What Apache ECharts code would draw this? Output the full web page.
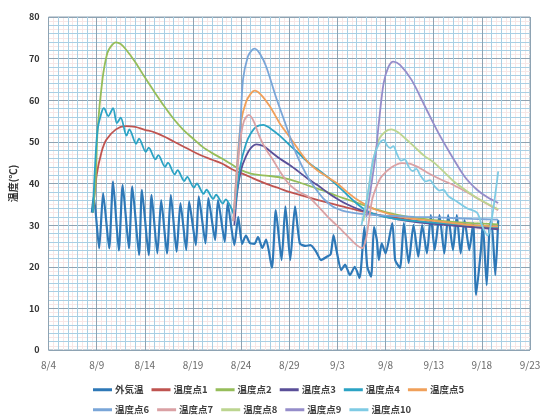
<!DOCTYPE html>
<html>
<head>
<meta charset="utf-8">
<script src="https://cdn.jsdelivr.net/npm/echarts@6/dist/echarts.min.js"></script>
<style>
html,body{margin:0;padding:0;background:#fff;}
#chart{width:552px;height:418px;}
</style>
</head>
<body>
<div id="chart"></div>
<script>
// Tick labels
const dateLabels = ['8/4','8/9','8/14','8/19','8/24','8/29','9/3','9/8','9/13','9/18','9/23'];
const seriesNames = ['外気温','温度点1','温度点2','温度点3','温度点4','温度点5','温度点6','温度点7','温度点8','温度点9','温度点10'];
// x = days since 8/4, y = temperature (°C)
const outdoor = [[4.5,33],[4.7,37],[5.26,24.4],[5.67,37.7],[6.3,24.4],[6.7,40.5],[7.3,23.9],[7.7,39.7],[8.35,24.4],[8.7,39.3],[9.4,22.8],[9.7,38.5],[10.4,22.8],[10.7,37.3],[11.3,23.2],[11.7,36],[12.3,23.2],[12.7,37.3],[13.3,23.6],[13.7,35.3],[14.3,24],[14.6,35.7],[15.3,25.2],[15.6,36.9],[16.3,25.6],[16.6,36.5],[17.3,26.4],[17.6,36],[18.3,26],[18.6,35.3],[19.3,25.2],[19.7,32],[20.1,25.5],[20.5,27.5],[20.9,25.7],[21.4,25.5],[21.75,27.2],[22.2,24.5],[22.6,26.5],[23.2,19.7],[23.6,33.6],[24.2,21.6],[24.6,34.5],[25.1,21.6],[25.6,34.5],[26.1,25.6],[26.7,25],[27.2,25.2],[27.8,23.6],[28.3,21.6],[28.9,22.4],[29.3,23],[29.6,27.6],[29.9,24],[30.4,19.2],[30.8,20.5],[31.3,18],[31.8,20],[32.3,17.3],[32.8,29.6],[33.1,20],[33.5,17.6],[33.8,29.6],[34.1,26.4],[34.3,21.6],[34.6,25.6],[35,23.2],[35.7,30.5],[36,21.6],[36.5,19.7],[36.9,30.5],[37.4,20.9],[37.9,30],[38.4,22.4],[38.8,30],[39.3,23.2],[39.7,32.4],[40.1,24],[40.6,32.4],[41.1,23.2],[41.5,32.4],[42,24],[42.4,32.4],[42.8,23.2],[43.2,31.2],[43.7,24],[44.1,30.5],[44.4,13.2],[44.9,24],[45.1,30.5],[45.5,15.6],[45.8,29.6],[46,31.2],[46.4,18],[46.7,31.2]];
const point1 = [[4.6,33],[5.0,42],[5.5,47.5],[6,50.5],[7,53],[8,53.8],[9,53.6],[10,52.9],[11,52.3],[12,51.3],[13,50.1],[14,48.9],[15,47.7],[16,46.6],[17,45.7],[18,44.8],[19,43.5],[20,42.5],[21,41.5],[22,40.5],[23,39.6],[24,38.8],[25,38],[26,37.3],[28,36],[30,34.8],[32,33.6],[34,32.6],[36,31.8],[38,31.1],[40,30.5],[42,30],[44,29.6],[46.7,29.2]];
const point2 = [[4.6,33],[4.9,41],[5.1,53],[5.6,65],[6.1,71.3],[6.5,73],[7,73.9],[7.5,73.5],[8,72.3],[9,69.2],[10,65.5],[11,62],[12,58.6],[13,55.5],[14,52.9],[15,50.8],[16,48.8],[17,47.3],[18,46],[19,44.6],[20,43.2],[21,42.4],[22,42],[23,41.8],[24,41.5],[25,41],[26,40.3],[27,39.5],[28,38.7],[29,37.9],[30,37],[31,36.2],[32,35.4],[33,34.6],[34,33.8],[36,32.6],[38,31.8],[40,31.2],[42,30.8],[44,30.5],[46.7,30.2]];
const point3 = [[19.3,30],[19.6,38],[20,43.3],[20.5,46.5],[21,48.5],[21.6,49.4],[22.3,49],[23,47.8],[24,46],[25,44.5],[26,42.8],[27,41],[28,39.5],[29,37.8],[30,36.3],[31,35],[32,34],[33,33.2],[34,32.5],[36,31.5],[38,30.8],[40,30.3],[42,29.9],[44,29.5],[46.7,29]];
const point4 = [[4.6,33],[4.85,45],[5.1,53],[5.5,57],[5.75,58.1],[6.2,56.2],[6.7,58.1],[7.1,54.5],[7.5,55.8],[8.1,51.5],[8.4,53],[9.1,49.5],[9.4,50.8],[10.1,47.6],[10.4,48.6],[11.1,45.8],[11.4,46.8],[12.1,44],[12.4,45],[13.1,42.2],[13.4,43.2],[14.1,40.6],[14.4,41.6],[15.1,39],[15.4,40],[16.1,37.5],[16.4,38.5],[17.1,36.3],[17.4,37.3],[18.1,35.2],[18.4,36.2],[19.0,34],[19.25,32.5],[19.5,37],[19.9,44],[20.5,49.5],[21,52],[21.6,53.7],[22.3,54.1],[23,53.3],[24,51.5],[25,49.3],[26,47.2],[27,45],[28,43.3],[29,41.5],[30,39.5],[31,37.3],[32,35.2],[33,33.5],[34,32.5],[36,31.5],[38,31],[40,30.6],[42,30.3],[44,30],[46.7,29.5]];
const point5 = [[19.2,31],[19.6,45],[20,55],[20.5,59.5],[21,61.6],[21.4,62.3],[22,61.5],[23,58.5],[24,54.5],[25,51.3],[26,48],[27,45],[28,43],[29,41.5],[30,40],[31,38],[32,36.2],[33,34.8],[34,33.7],[36,32.3],[38,31.5],[40,31],[42,30.5],[44,30],[46.7,29.7]];
const point6 = [[19.2,31],[19.5,41],[19.9,53],[20.2,65],[20.7,70.5],[21.1,72],[21.4,72.4],[22,71],[22.6,68.1],[23.6,60.9],[24.7,53.7],[25.7,47.3],[26.7,42.5],[27.5,39.5],[28.5,36.5],[29.5,34.5],[30.5,33.5],[31.5,33],[33,32.6],[35,32.3],[38,32],[41,31.8],[44,31.5],[46.7,31.3]];
const point7 = [[19.2,31],[19.5,40],[19.9,50],[20.3,55],[20.8,56.5],[21.3,55],[21.9,51.3],[22.5,48.5],[23.3,45.7],[24,43],[25,39.8],[26,38],[27,36.8],[28,34.5],[29,32],[30,29.8],[31,27.5],[32,25.2],[32.6,24.5],[33,27],[33.6,36],[34.1,39.5],[34.6,41.7],[35.7,44],[36.7,44.9],[37.5,44.8],[38.5,43.8],[39.5,42.4],[40.8,40.9],[42,39.7],[43.6,37.7],[45,35.8],[46.7,33.6]];
const point8 = [[32.7,31],[33.2,38],[33.6,44],[34.3,50.5],[35,52.5],[35.6,53],[36.3,52.3],[37.2,50.5],[38,48.8],[39,46.7],[40.1,44.9],[41.9,40.9],[43,38.9],[44.5,36.5],[46.7,33.8]];
const point9 = [[33.0,32],[33.6,40.9],[33.95,46.5],[34.3,54.5],[34.8,64.1],[35.3,68],[35.8,69.3],[36.5,68.5],[37.7,64.9],[39.1,58.5],[40.5,52.1],[41.9,46.5],[43.2,41.7],[44.5,38.5],[45.5,36.8],[46.7,35.3]];
const point10 = [[32.5,30],[33.2,38],[33.7,45.7],[34.3,49.5],[34.8,50.5],[35.2,49],[35.5,48.5],[35.8,49],[36.2,47],[36.6,45.5],[37,45.8],[37.4,44],[37.8,43],[38.2,43.5],[38.6,42],[39.2,40.5],[39.6,40.8],[40.1,39.3],[40.6,38.3],[41,38.5],[41.5,37],[42.5,35.5],[43.5,34],[44.5,33],[45,30],[45.6,27.5],[46,31],[46.7,42.9]];

const allData = [outdoor, point1, point2, point3, point4, point5, point6, point7, point8, point9, point10];
const colors = ['#2e78b7','#bf5450','#96bd5a','#5a4f98','#2ba3c4','#f0a05a','#7aa6d8','#daa1a4','#bcd590','#958dca','#7fcbe4'];

const font = '"Noto Sans CJK JP", "Noto Sans", sans-serif';
const chart = echarts.init(document.getElementById('chart'), null, {renderer:'canvas'});

const series = allData.map((d, i) => ({
  name: seriesNames[i],
  type: 'line',
  data: d,
  xAxisIndex: 0,
  yAxisIndex: 0,
  showSymbol: false,
  smooth: i === 0 ? 0.2 : 0.3,
  lineStyle: {width: i === 0 ? 2.2 : 1.8, color: colors[i]},
  itemStyle: {color: colors[i]},
  emphasis: {disabled: true},
  animation: false
}));

const legendBase = {
  left: 93,
  padding: 0,
  itemWidth: 19,
  itemHeight: 3,
  itemGap: 8,
  icon: 'rect',
  textStyle: {fontSize: 9.5, color: '#404040', fontFamily: font, fontWeight: 'bold', padding: [0,0,0,-2]}
};

chart.setOption({
  backgroundColor: '#ffffff',
  animation: false,
  color: colors,
  grid: {left: 44, right: 22, top: 17, bottom: 68, show: true, borderColor: '#8ea3b3', borderWidth: 1, containLabel: false},
  legend: [
    Object.assign({}, legendBase, {top: 385, data: seriesNames.slice(0,6)}),
    Object.assign({}, legendBase, {top: 405, data: seriesNames.slice(6)})
  ],
  xAxis: [
    {
      type: 'value', min: 0, max: 50, interval: 5,
      axisLine: {show: false}, axisTick: {show: false},
      axisLabel: {formatter: v => dateLabels[Math.round(v/5)], color: '#6a6a6a', fontSize: 10, fontFamily: font, margin: 10},
      splitLine: {show: true, lineStyle: {color: '#8ea3b3', width: 1}},
      minorTick: {show: false, splitNumber: 5},
      minorSplitLine: {show: true, lineStyle: {color: '#a9cfe4', width: 1}},
      z: 2
    },
    {
      type: 'value', min: 0, max: 50, interval: 1, show: true,
      axisLine: {show: false}, axisTick: {show: false}, axisLabel: {show: false},
      splitLine: {show: false},
      minorTick: {show: false, splitNumber: 2},
      minorSplitLine: {show: true, lineStyle: {color: '#f7e7e7', width: 1}},
      z: 1
    }
  ],
  yAxis: [
    {
      type: 'value', min: 0, max: 80, interval: 10,
      name: '温度(℃)', nameLocation: 'middle', nameGap: 22, nameRotate: 90,
      nameTextStyle: {fontSize: 10, fontWeight: 'bold', color: '#333', fontFamily: font},
      axisLine: {show: false}, axisTick: {show: false},
      axisLabel: {color: '#333', fontSize: 9, fontWeight: 'bold', fontFamily: font, margin: 9},
      splitLine: {show: true, lineStyle: {color: '#8ea3b3', width: 1}},
      minorTick: {show: false, splitNumber: 5},
      minorSplitLine: {show: true, lineStyle: {color: '#a9cfe4', width: 1}},
      z: 2
    },
    {
      type: 'value', min: 0, max: 80, interval: 2, show: true,
      axisLine: {show: false}, axisTick: {show: false}, axisLabel: {show: false},
      splitLine: {show: false},
      minorTick: {show: false, splitNumber: 2},
      minorSplitLine: {show: true, lineStyle: {color: '#f7e7e7', width: 1}},
      z: 1
    }
  ],
  series: series
});
</script>
</body>
</html>
